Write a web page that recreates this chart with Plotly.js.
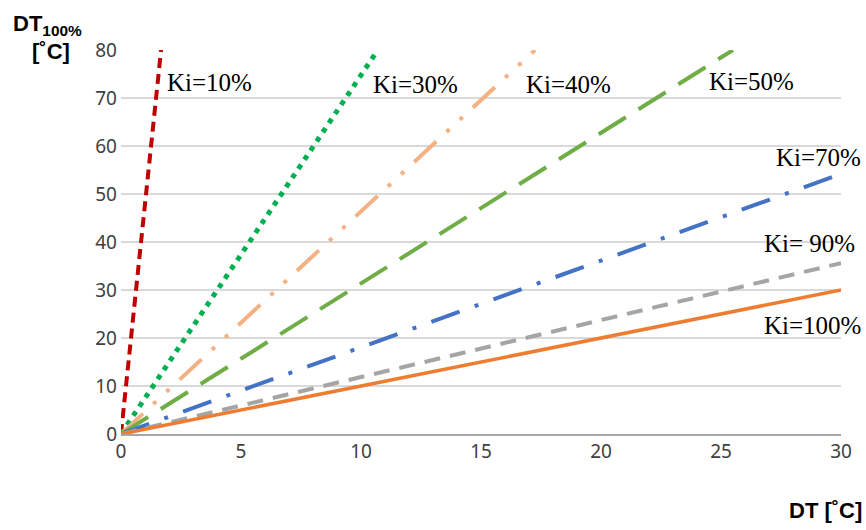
<!DOCTYPE html>
<html><head><meta charset="utf-8">
<script src="https://cdn.plot.ly/plotly-3.0.1.min.js"></script>
<style>body{margin:0;background:#fff}#c{width:866px;height:530px}</style>
</head><body><div id="c"></div>
<script>
const seriesNames = ["Ki=10%","Ki=30%","Ki=40%","Ki=50%","Ki=70%","Ki=90%","Ki=100%"];
const ki10x = [0, 1.67], ki10y = [0, 80];
const ki30x = [0, 10.7], ki30y = [0, 80];
const ki40x = [0, 17.25], ki40y = [0, 80];
const ki50x = [0, 25.5], ki50y = [0, 80];
const ki70x = [0, 30], ki70y = [0, 54.2];
const ki90x = [0, 30], ki90y = [0, 35.6];
const ki100x = [0, 30], ki100y = [0, 30];
const xTicks = [0,5,10,15,20,25,30];
const yTicks = [0,10,20,30,40,50,60,70,80];

const xs=[ki10x,ki30x,ki40x,ki50x,ki70x,ki90x,ki100x];
const ys=[ki10y,ki30y,ki40y,ki50y,ki70y,ki90y,ki100y];
const colors=["#C00000","#00B050","#F4B183","#70AD47","#4472C4","#A5A5A5","#ED7D31"];
const dashes=["10px,6px","5px,6px","30px,14px,4px,14px,4px,14px","32px,15px","30px,16px,4px,16px","16px,10px","solid"];
const widths=[4,5,4,4,4,4,3.5];
const traces=xs.map((x,i)=>({x:x,y:ys[i],mode:"lines",name:seriesNames[i],
  line:{color:colors[i],width:widths[i],dash:dashes[i]},hoverinfo:"skip"}));

const lf={family:"Liberation Serif, Times New Roman, serif",size:25,color:"#000"};
const labelPos=[[1.83,73.2,"left","x"],[10.4,72.8,"left","x"],[16.8,72.8,"left","x"],[24.4,73.4,"left","x"],
  [1.03,57.6,"right","paper"],[1.022,39.6,"right","paper"],[1.03,22.7,"right","paper"]];
const labels=["Ki=10%","Ki=30%","Ki=40%","Ki=50%","Ki=70%","Ki= 90%","Ki=100%"];
const ann=labels.map((t,i)=>({x:labelPos[i][0],y:labelPos[i][1],xref:labelPos[i][3],yref:"y",text:t,showarrow:false,
  xanchor:labelPos[i][2],yanchor:"middle",font:lf}));
const tf={family:"Liberation Sans, Arial, sans-serif",size:22,color:"#000"};
ann.push({xref:"paper",yref:"paper",x:-0.153,y:1.066,text:"<b>DT<sub>100%</sub></b>",showarrow:false,xanchor:"left",yanchor:"middle",font:tf});
ann.push({xref:"paper",yref:"paper",x:-0.126,y:0.995,text:"<b>[˚C]</b>",showarrow:false,xanchor:"left",yanchor:"middle",font:tf});
ann.push({xref:"paper",yref:"paper",x:1.032,y:-0.2,text:"<b>DT [˚C]</b>",showarrow:false,xanchor:"right",yanchor:"middle",font:tf});

const layout={width:866,height:530,margin:{l:121,r:25,t:50,b:96},
  paper_bgcolor:"#fff",plot_bgcolor:"#fff",showlegend:false,
  font:{family:"Noto Sans, Liberation Sans, sans-serif",size:19,color:"#404040"},
  xaxis:{range:[0,30],tickvals:xTicks,ticktext:xTicks.map(String),showgrid:false,zeroline:false,
    showline:true,linecolor:"#A6A6A6",linewidth:1.5,ticks:"",ticklen:0,tickfont:{size:19,color:"#404040"}},
  yaxis:{range:[0,80],tickvals:yTicks,ticktext:yTicks.map(String),showgrid:true,gridcolor:"#D9D9D9",gridwidth:1.3,
    zeroline:false,showline:false,ticks:"",ticklabelstandoff:3,tickfont:{size:19,color:"#404040"}},
  annotations:ann};
Plotly.newPlot("c",traces,layout,{displayModeBar:false,staticPlot:true});
</script></body></html>
